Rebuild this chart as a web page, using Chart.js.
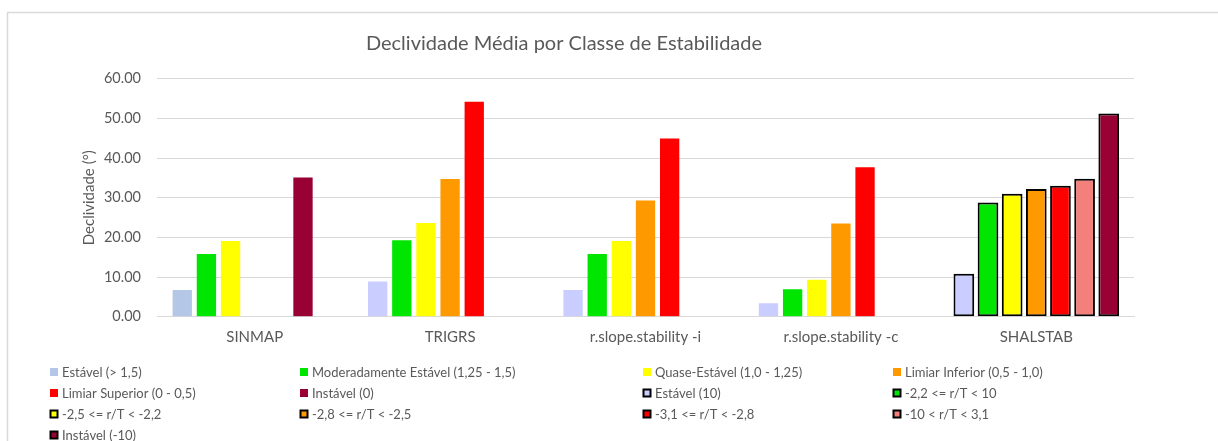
<!DOCTYPE html>
<html>
<head>
<meta charset="utf-8">
<title>Declividade Média por Classe de Estabilidade</title>
<script src="https://cdn.jsdelivr.net/npm/chart.js@4/dist/chart.umd.min.js"></script>
<style>
  html, body { margin: 0; padding: 0; background: #fff; }
  #wrap { width: 1218px; height: 441px; position: relative; }
</style>
</head>
<body>
<div id="wrap"><canvas id="chart"></canvas></div>
<script>
var categories = ['SINMAP', 'TRIGRS', 'r.slope.stability -i', 'r.slope.stability -c', 'SHALSTAB'];
var yTicks = [0, 10, 20, 30, 40, 50, 60];

// classes FS (SINMAP, TRIGRS, r.slope.stability) - valores das 4 primeiras categorias
var fsLabels = ['Estável (> 1,5)', 'Moderadamente Estável (1,25 - 1,5)', 'Quase-Estável (1,0 - 1,25)',
                'Limiar Inferior (0,5 - 1,0)', 'Limiar Superior (0 - 0,5)', 'Instável (0)'];
var fsColors = ['#B4C7E7', '#00E600', '#FFFF00', '#FF9900', '#FF0000', '#990033'];
var fsEstavel   = [6.7, 8.9, 6.7, 3.4];
var fsModerado  = [15.8, 19.3, 15.8, 6.9];
var fsQuase     = [19.1, 23.6, 19.1, 9.3];
var fsLimInf    = [null, 34.7, 29.3, 23.5];
var fsLimSup    = [null, 54.2, 44.9, 37.7];
var fsInstavel  = [35.1, null, null, null];
var fsEstavelPointColors = ['#B4C7E7', '#C9CDFF', '#C9CDFF', '#C9CDFF'];

// classes SHALSTAB
var shLabels = ['Estável (10)', '-2,2 <= r/T < 10', '-2,5 <= r/T < -2,2', '-2,8 <= r/T < -2,5',
                '-3,1 <= r/T < -2,8', '-10 < r/T < 3,1', 'Instável (-10)'];
var shColors = ['#C9CDFF', '#00E600', '#FFFF00', '#FF9900', '#FF0000', '#F4807B', '#990033'];
var shValues = [10.8, 28.8, 31.0, 32.2, 33.0, 34.8, 51.2];

var textColor = '#595959';
var gridColor = '#D9D9D9';
var fontFamily = 'Lato, "Liberation Sans", sans-serif';

Chart.defaults.font.family = fontFamily;
Chart.defaults.color = textColor;

// como no Excel: 7 "posições" por categoria; a série i dos FS e a série i do SHALSTAB
// dividem a mesma posição (stack), e nunca têm valor na mesma categoria
var fsSeries = [fsEstavel, fsModerado, fsQuase, fsLimInf, fsLimSup, fsInstavel];
var datasets = [];

fsSeries.forEach(function (vals, i) {
  datasets.push({
    label: fsLabels[i],
    data: categories.map(function (c, j) { return j < vals.length ? vals[j] : null; }),
    backgroundColor: i === 0 ? fsEstavelPointColors : fsColors[i],
    legendColor: fsColors[i],
    boxed: false,
    borderWidth: 0,
    stack: 'pos' + i,
    categoryPercentage: 0.865,
    barPercentage: 0.8
  });
});

shValues.forEach(function (v, i) {
  datasets.push({
    label: shLabels[i],
    data: categories.map(function (c) { return c === 'SHALSTAB' ? v : null; }),
    backgroundColor: shColors[i],
    legendColor: shColors[i],
    boxed: true,
    borderColor: '#000000',
    borderWidth: 2,
    borderSkipped: false,
    stack: 'pos' + i,
    categoryPercentage: 0.865,
    barPercentage: 0.857
  });
});

// titulo, legenda em 4 colunas e moldura
var excelLook = {
  id: 'excelLook',
  beforeDraw: function (chart) {
    var ctx = chart.ctx;
    ctx.save();
    ctx.strokeStyle = gridColor;
    ctx.lineWidth = 1.5;
    ctx.strokeRect(7.5, 12.5, 1400, 1000);
    ctx.restore();
  },
  afterDraw: function (chart) {
    var ctx = chart.ctx;
    ctx.save();
    ctx.fillStyle = textColor;
    ctx.font = '20px ' + fontFamily;
    ctx.textAlign = 'center';
    ctx.textBaseline = 'alphabetic';
    ctx.fillText('Declividade Média por Classe de Estabilidade', 564, 50);

    var cols = [50, 300, 643, 893];
    ctx.font = '13px ' + fontFamily;
    ctx.textAlign = 'left';
    ctx.textBaseline = 'middle';
    chart.data.datasets.forEach(function (ds, i) {
      var x = cols[i % 4];
      var y = 372 + Math.floor(i / 4) * 21;
      if (ds.boxed) {
        ctx.fillStyle = '#000';
        ctx.fillRect(x - 0.5, y - 4.5, 9, 9);
        ctx.fillStyle = ds.legendColor;
        ctx.fillRect(x + 1.5, y - 2.5, 5, 5);
      } else {
        ctx.fillStyle = ds.legendColor;
        ctx.fillRect(x, y - 4, 8, 8);
      }
      ctx.fillStyle = textColor;
      ctx.fillText(ds.label, x + 12, y + 0.5);
    });
    ctx.restore();
  }
};

var ctx = document.getElementById('chart').getContext('2d');
var myChart = new Chart(ctx, {
  type: 'bar',
  data: {
    labels: categories,
    datasets: datasets
  },
  options: {
    responsive: true,
    maintainAspectRatio: false,
    animation: false,
    layout: {
      padding: { left: 77, right: 84, top: 78.7, bottom: 0 }
    },
    plugins: {
      legend: { display: false },
      title: { display: false },
      tooltip: { enabled: false }
    },
    scales: {
      x: {
        grid: { display: false, drawTicks: false },
        border: { display: true, color: gridColor, width: 1 },
        ticks: { padding: 11.8, font: { size: 15 }, color: textColor },
        afterFit: function (s) { s.height = 124.3; }
      },
      y: {
        min: 0,
        max: 60,
        afterBuildTicks: function (s) {
          s.ticks = yTicks.map(function (v) { return { value: v }; });
        },
        grid: { color: gridColor, lineWidth: 1, drawTicks: false },
        border: { display: false },
        ticks: {
          padding: 16,
          font: { size: 14.5 },
          color: textColor,
          callback: function (v) { return Number(v).toFixed(2); }
        },
        title: {
          display: true,
          text: 'Declividade (°)',
          font: { size: 15 },
          color: textColor,
          padding: { top: 3, bottom: 0 }
        },
        afterFit: function (s) { s.width = 80; }
      }
    }
  },
  plugins: [excelLook]
});
</script>
</body>
</html>
